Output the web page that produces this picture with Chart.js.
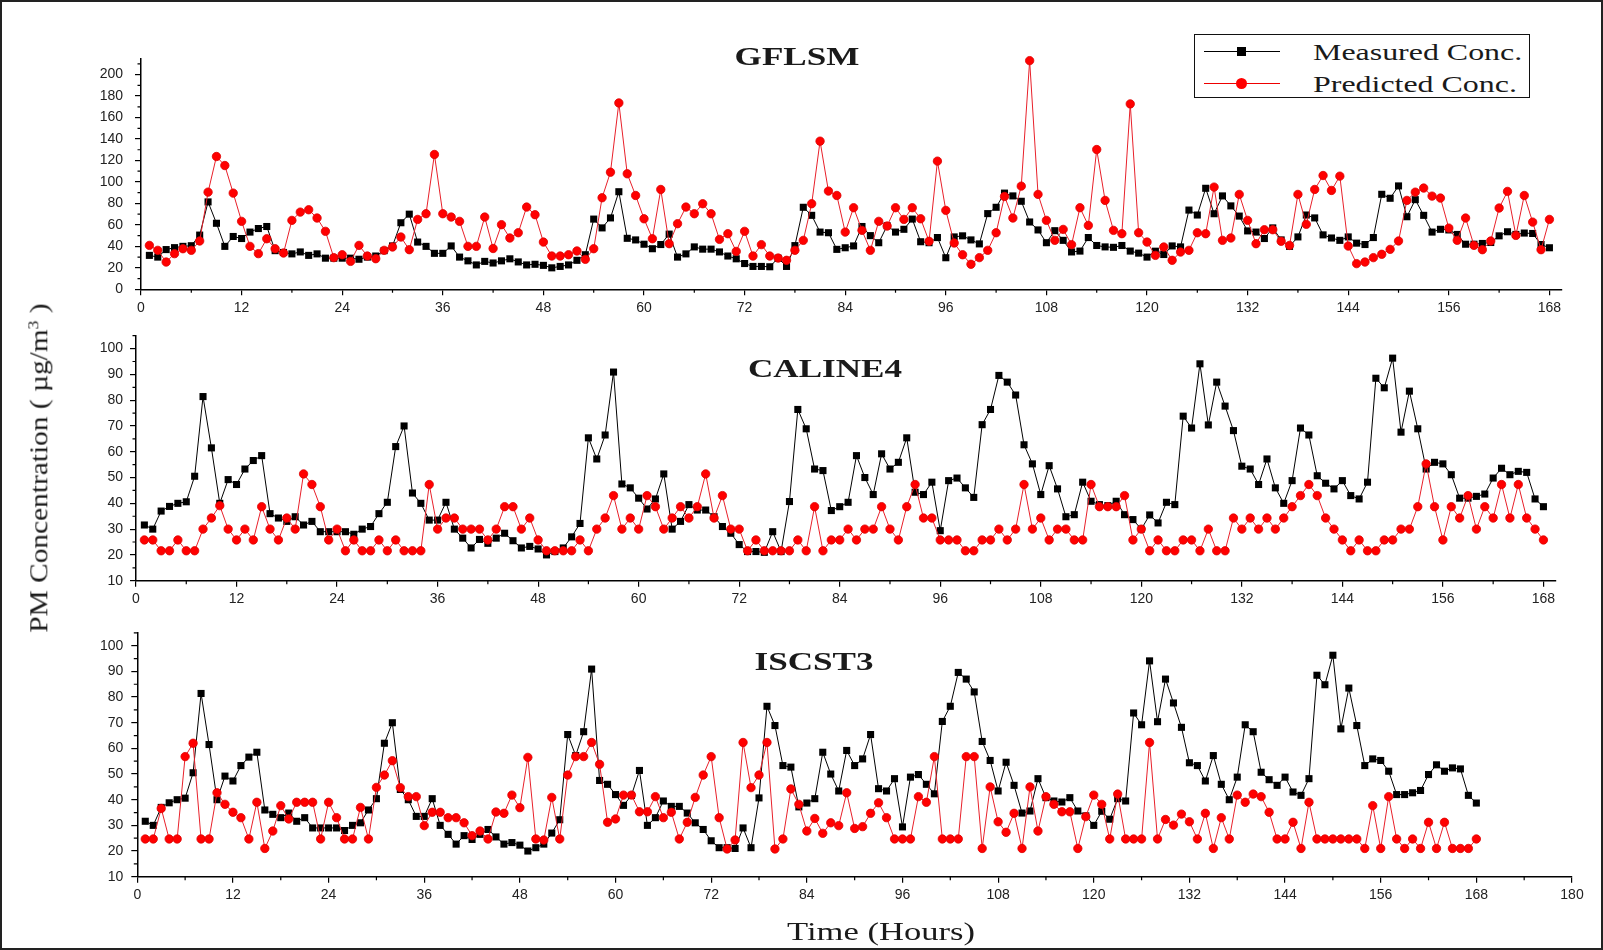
<!DOCTYPE html>
<html>
<head>
<meta charset="utf-8">
<script src="https://cdn.jsdelivr.net/npm/chart.js@4.4.1/dist/chart.umd.min.js"></script>
<style>
  html, body { margin: 0; padding: 0; background: #fff; }
  #page { position: relative; width: 1603px; height: 950px; overflow: hidden; background: #fff; }
  #frame { position: absolute; left: 0; top: 0; width: 1603px; height: 950px; box-sizing: border-box; border: 2px solid #222; pointer-events: none; }
  .panel { position: absolute; left: 0; width: 1603px; }
  .serif { position: absolute; font-family: "Liberation Serif", "Times New Roman", serif; color: #1a1a1a; white-space: nowrap; line-height: 1; }
  .title { font-weight: bold; font-size: 26px; transform: translate(-50%, -50%) scaleX(1.35); }
  #ytitle { left: 39px; top: 468px; font-size: 26px; transform: translate(-50%, -50%) rotate(-90deg) scaleX(1.13); }
  #ytitle sup { font-size: 60%; vertical-align: 0.6em; }
  #xtitle { left: 881px; top: 932px; font-size: 26px; transform: translate(-50%, -50%) scaleX(1.33); }
  #legend { position: absolute; left: 1194px; top: 34px; width: 336px; height: 64px; box-sizing: border-box; border: 1.5px solid #111; background: #fff; }
  .lline { position: absolute; left: 9px; width: 76px; height: 1px; }
  .lmark { position: absolute; }
  .ltext { position: absolute; left: 118px; font-family: "Liberation Serif", "Times New Roman", serif; font-size: 24px; color: #1a1a1a; white-space: nowrap; line-height: 1; transform: translateY(-50%) scaleX(1.33); transform-origin: left center; }
</style>
</head>
<body>
<div id="page">
  <div class="panel" style="top:30px;height:310px"><canvas id="c1"></canvas></div>
  <div class="panel" style="top:315px;height:310px"><canvas id="c2"></canvas></div>
  <div class="panel" style="top:610px;height:330px"><canvas id="c3"></canvas></div>

  <div class="serif title" style="left:797px;top:57px">GFLSM</div>
  <div class="serif title" style="left:825px;top:369px">CALINE4</div>
  <div class="serif title" style="left:814px;top:662px">ISCST3</div>

  <div id="ytitle" class="serif">PM Concentration ( µg/m<sup>3</sup> )</div>
  <div id="xtitle" class="serif">Time (Hours)</div>

  <div id="legend">
    <div class="lline" style="top:16px;background:#000"></div>
    <div class="lmark" style="left:42px;top:12px;width:9px;height:9px;background:#000"></div>
    <div class="ltext" style="top:17px">Measured Conc.</div>
    <div class="lline" style="top:48px;background:#e00"></div>
    <div class="lmark" style="left:41px;top:43px;width:11px;height:11px;border-radius:50%;background:#f00"></div>
    <div class="ltext" style="top:49px">Predicted Conc.</div>
  </div>
  <div id="frame"></div>
</div>

<script>
/* Measured concentration, hours 1..168 (same series in all three panels) */
const measured = [
    31.6, 30, 37, 38.8, 40, 40.6, 50.5, 81.4, 61.5, 40, 49.2, 47.3,
    53.3, 56.6, 58.5, 36, 34.3, 33, 34.8, 31.6, 33, 29, 29, 29,
    29, 28, 30, 31, 36, 40.4, 62, 70, 44, 40, 33.5, 33.5,
    40.4, 30, 26.5, 22.7, 26, 24.5, 26.5, 28.4, 25.5, 22.7, 23.3, 22.3,
    20, 21.3, 22.7, 27, 32.2, 65.4, 57.2, 66.5, 90.9, 47.5, 46, 42,
    37.8, 41.7, 51.4, 30, 33, 39.5, 37.4, 37.4, 34.8, 31, 28.4, 24,
    21.3, 21.3, 21, 29, 21.3, 40.7, 76.4, 68.9, 53.3, 52.7, 37.2, 38.7,
    40.4, 58.5, 50, 43.4, 59.2, 53.3, 55.9, 65.4, 44.3, 43.4, 48.2, 29.4,
    48.8, 49.8, 46, 42.3, 70.5, 76.4, 89.6, 87, 82, 62.7, 55.3, 43.4,
    54.6, 45.6, 34.8, 35.6, 48.2, 40.8, 39.5, 39.1, 40.8, 35.6, 33.7, 30,
    35.5, 32.4, 40.4, 39.5, 73.8, 69.2, 94.1, 70.4, 87, 77.7, 68.2, 54.4,
    53.3, 47.3, 57.2, 46, 40, 48.8, 69.2, 66.5, 50.7, 47.8, 45.6, 48.8,
    43, 41.7, 48.2, 88.5, 84.8, 96.3, 67.6, 83.5, 68.9, 53.3, 55.9, 55.3,
    51.1, 42, 42, 42.7, 43.6, 49.8, 53.6, 51.1, 52.4, 52, 41.7, 38.7
];

const gflsm = [
    40.9, 36.3, 25.4, 33.2, 37.8, 36.3, 45, 90.5, 123.7, 115.3, 89.6, 63.3,
    40, 33.2, 47.1, 37.8, 33.8, 64.2, 71.9, 74.1, 66.4, 54, 29.5, 32.2,
    26, 40.9, 31, 28.5, 36.3, 39.4, 48.7, 36.9, 65.1, 70.4, 125.6, 70.4,
    67.3, 63.3, 40, 40, 67.3, 38, 60.2, 47.8, 52.7, 76.6, 69.5, 44,
    31, 31, 32.2, 35.7, 27.9, 37.8, 85.3, 109.1, 173.6, 107.6, 87.4, 65.7,
    47.1, 93, 42.5, 61.1, 76.6, 70.4, 79.7, 70.4, 46.5, 51.8, 35.3, 54,
    31, 41.6, 31, 29.1, 27, 36.3, 45.6, 79.7, 138, 91.5, 87.4, 53.3,
    76, 54.9, 36.3, 63.3, 58.9, 76, 65.1, 76, 65.7, 44.7, 119.4, 73.5,
    43.1, 32.2, 23.3, 29.5, 36.3, 52.7, 86.5, 66.4, 96.1, 213, 88.4, 64.2,
    45.6, 55.8, 41.6, 76, 59.5, 130.2, 82.8, 54.9, 51.8, 172.7, 52.7, 44,
    31.6, 39.4, 27, 34.7, 36.3, 52.7, 51.8, 95.2, 45.6, 47.8, 88.4, 64.2,
    42.5, 55.5, 55.5, 44.7, 40.9, 88.4, 60.5, 93, 106, 92.1, 105.4, 40.3,
    23.9, 25.4, 29.5, 32.6, 37.2, 45, 82.8, 90.5, 94.3, 86.8, 85, 57,
    45.6, 66.4, 40.9, 36.9, 45, 75.7, 91.2, 50.2, 87.4, 62.6, 36.9, 65.1
];

const caline4 = [
    25.8, 25.8, 21.6, 21.6, 25.8, 21.6, 21.6, 30, 34.3, 39.1, 30, 25.8,
    30, 25.8, 38.7, 30, 25.8, 34.3, 30, 51.4, 47.3, 38.7, 25.8, 30,
    21.6, 25.8, 21.6, 21.6, 25.8, 21.6, 25.8, 21.6, 21.6, 21.6, 47.3, 30,
    34.3, 34.3, 30, 30, 30, 25.8, 30, 38.7, 38.7, 30, 34.3, 25.8,
    21.6, 21.6, 21.6, 21.6, 25.8, 21.6, 30, 34.3, 43, 30, 34.3, 30,
    43, 38.7, 30, 34.3, 38.7, 34.3, 38.7, 51.4, 34.3, 43, 30, 30,
    21.6, 25.8, 21.6, 21.6, 21.6, 21.6, 25.8, 21.6, 38.7, 21.6, 25.8, 25.8,
    30, 25.8, 30, 30, 38.7, 30, 25.8, 38.7, 47.3, 34.3, 34.3, 25.8,
    25.8, 25.8, 21.6, 21.6, 25.8, 25.8, 30, 25.8, 30, 47.3, 30, 34.3,
    25.8, 30, 30, 25.8, 25.8, 47.3, 38.7, 38.7, 38.7, 43, 25.8, 30,
    21.6, 25.8, 21.6, 21.6, 25.8, 25.8, 21.6, 30, 21.6, 21.6, 34.3, 30,
    34.3, 30, 34.3, 30, 34.3, 38.7, 43, 47.3, 43, 34.3, 30, 25.8,
    21.6, 25.8, 21.6, 21.6, 25.8, 25.8, 30, 30, 38.7, 55.3, 38.7, 25.8,
    38.7, 34.3, 43, 30, 38.7, 34.3, 47.3, 34.3, 47.3, 34.3, 30, 25.8
];

const iscst3 = [
    24.7, 24.7, 36.6, 24.7, 24.7, 56.8, 62, 24.7, 24.7, 42.7, 38.2, 35.1,
    33, 24.7, 39, 21, 27.8, 37.7, 32.5, 39, 39, 39, 24.7, 39,
    33, 24.7, 24.7, 37, 24.7, 44.8, 49.6, 55.2, 44.7, 41.2, 41.2, 29.9,
    35.1, 35.1, 33, 33, 31, 26, 27.8, 24.7, 35.2, 34.7, 41.8, 36.9,
    56.5, 24.7, 24.3, 40.9, 24.7, 49.6, 56.8, 56.8, 62.3, 53.8, 31.2, 32.5,
    41.8, 41.8, 35.3, 35.3, 41.2, 33, 35.1, 24.7, 31.2, 40.9, 49.6, 56.8,
    33, 20.8, 24.3, 62.3, 44.7, 49.6, 62.3, 20.8, 24.7, 44.2, 38.2, 27.8,
    32.7, 26.9, 31, 29.9, 42.7, 28.8, 29.5, 34.7, 38.8, 33, 24.7, 24.7,
    24.7, 41.2, 39, 56.8, 24.7, 24.7, 24.7, 56.8, 56.8, 21, 45, 31.4,
    27.3, 34.7, 21, 45, 27.8, 41.2, 38.2, 35.3, 35.3, 21, 33.4, 41.8,
    38.2, 24.7, 42.2, 24.7, 24.7, 24.7, 62.3, 24.7, 32.3, 30.1, 34.4, 31.4,
    24.7, 34.7, 21, 33, 24.7, 41.8, 39, 42.2, 41.2, 35.1, 24.7, 24.7,
    31.2, 21, 39, 24.7, 24.7, 24.7, 24.7, 24.7, 24.7, 21, 37.7, 21,
    41.2, 24.7, 21, 24.7, 21, 31.2, 21, 31.2, 21, 21, 21, 24.7
];

const hours = measured.map((_, i) => i + 1);

/* Short unlabeled ticks between the labeled ones */
const minorTicks = {
    id: "minorTicks",
    afterDraw(chart, args, opts) {
        const ctx = chart.ctx;
        ctx.save();
        ctx.strokeStyle = "#000";
        ctx.lineWidth = 1.2;
        ctx.beginPath();
        for (const id of ["x", "y"]) {
            const scale = chart.scales[id];
            const minor = opts[id];
            const major = scale.options.ticks.stepSize;
            for (let v = Math.ceil(scale.min / minor) * minor; v <= scale.max + 1e-6; v += minor) {
                if (Math.abs(((v - scale.min) % major)) < 1e-6 || Math.abs(((v - scale.min) % major) - major) < 1e-6) continue;
                const p = scale.getPixelForValue(v);
                if (id === "x") {
                    ctx.moveTo(p, scale.top);
                    ctx.lineTo(p, scale.top + 3.5);
                } else {
                    ctx.moveTo(scale.right - 3.5, p);
                    ctx.lineTo(scale.right, p);
                }
            }
        }
        ctx.stroke();
        ctx.restore();
    }
};

const tickFont = { family: "'Liberation Sans', Arial, sans-serif", size: 14 };

function toPoints(values) {
    return hours.map((h, i) => ({ x: h, y: values[i] }));
}

function makePanel(id, cfg) {
    return new Chart(document.getElementById(id), {
        type: "line",
        data: {
            datasets: [
                {
                    label: "Predicted Conc.",
                    data: toPoints(cfg.predicted),
                    borderColor: "#e8202a",
                    borderWidth: 1,
                    backgroundColor: "#ff0000",
                    pointStyle: "circle",
                    pointRadius: 4.2,
                    pointBorderColor: "#dd0000",
                    pointBorderWidth: 0.8,
                    tension: 0,
                    clip: false
                },
                {
                    label: "Measured Conc.",
                    data: toPoints(measured),
                    borderColor: "#000",
                    borderWidth: 1,
                    backgroundColor: "#000",
                    pointStyle: "rect",
                    pointRadius: 5,
                    pointBorderWidth: 0,
                    tension: 0,
                    clip: false,
                    order: 1
                }
            ]
        },
        options: {
            responsive: true,
            maintainAspectRatio: false,
            animation: false,
            events: [],
            layout: { padding: { top: cfg.padTop, right: cfg.padRight, left: 0, bottom: 0 } },
            plugins: {
                legend: { display: false },
                tooltip: { enabled: false },
                minorTicks: { x: 6, y: cfg.yMinor }
            },
            scales: {
                x: {
                    type: "linear",
                    min: 0,
                    max: cfg.xMax,
                    border: { color: "#000", width: 1.5 },
                    grid: { drawOnChartArea: false, drawTicks: true, tickLength: 6, color: "#000", lineWidth: 1.2 },
                    ticks: { stepSize: 12, autoSkip: false, maxRotation: 0, includeBounds: false, padding: 4, color: "#222", font: tickFont },
                    afterFit: (s) => { s.height = cfg.xHeight; }
                },
                y: {
                    type: "linear",
                    min: cfg.yMin,
                    max: cfg.yMax,
                    border: { color: "#000", width: 1.5 },
                    grid: { drawOnChartArea: false, drawTicks: true, tickLength: 6, color: "#000", lineWidth: 1.2 },
                    ticks: { stepSize: cfg.yStep, includeBounds: false, padding: cfg.yPad, color: "#222", font: tickFont },
                    afterFit: (s) => { s.width = cfg.yWidth; }
                }
            }
        },
        plugins: [minorTicks]
    });
}

makePanel("c1", {
    predicted: gflsm, yMin: 0, yMax: 215, yStep: 20, yMinor: 10, xMax: 169.5,
    padTop: 28.5, padRight: 41, xHeight: 50.7, yWidth: 141, yPad: 12
});
makePanel("c2", {
    predicted: caline4, yMin: 10, yMax: 105, yStep: 10, yMinor: 5, xMax: 169.5,
    padTop: 20.7, padRight: 47, xHeight: 44.3, yWidth: 136, yPad: 7
});
makePanel("c3", {
    predicted: iscst3, yMin: 10, yMax: 105, yStep: 10, yMinor: 5, xMax: 180,
    padTop: 22.9, padRight: 31, xHeight: 63.3, yWidth: 137.3, yPad: 8
});
</script>
</body>
</html>
